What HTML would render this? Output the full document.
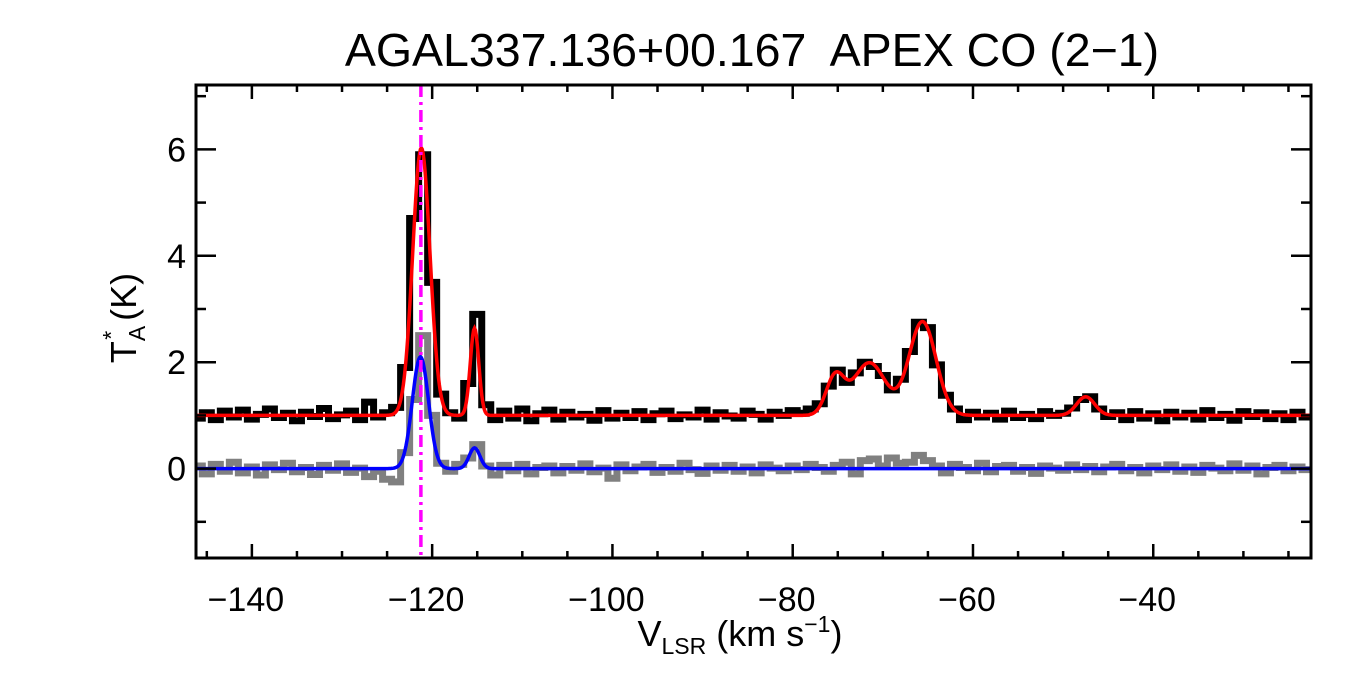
<!DOCTYPE html>
<html><head><meta charset="utf-8"><style>
html,body{margin:0;padding:0;background:#fff;}
svg{display:block;font-family:"Liberation Sans",sans-serif;}
</style></head><body>
<svg id="chart" width="1350" height="675" viewBox="0 0 1350 675" xmlns="http://www.w3.org/2000/svg">
<defs><clipPath id="clip"><rect x="196" y="85" width="1115" height="473"/></clipPath></defs>
<text x="752" y="66" font-size="46.5" text-anchor="middle" xml:space="preserve">AGAL337.136+00.167  APEX CO (2−1)</text>
<g id="plot" clip-path="url(#clip)"></g>
<g id="axes"></g>
<text x="740" y="646" font-size="36" text-anchor="middle">V<tspan font-size="23" dy="8">LSR</tspan><tspan dy="-8"> (km s</tspan><tspan font-size="23" dy="-14">−1</tspan><tspan dy="14">)</tspan></text>
<g transform="translate(136,318) rotate(-90)"><text x="0" y="0" font-size="36" text-anchor="middle">T<tspan font-size="23" dy="9">A</tspan><tspan font-size="23" dx="-14" dy="-26">*</tspan><tspan dy="17"> (K)</tspan></text></g>
</svg>
<script>
const v0 = -146;
const blackData = [0.95,1.05,0.92,1.08,0.97,1.10,0.93,1.02,1.12,0.96,
1.04,0.90,1.06,0.98,1.13,0.94,1.01,1.08,0.92,1.25,
0.97,1.05,1.15,1.9,4.7,5.9,3.5,1.4,1.05,0.95,
1.6,2.9,1.2,0.92,1.08,0.95,1.12,0.90,1.03,1.10,
0.93,1.06,0.97,1.02,0.91,1.09,0.95,1.04,0.96,1.07,
0.92,1.03,1.08,0.94,1.01,0.97,1.10,0.93,1.05,0.99,
0.95,1.08,1.02,0.93,1.06,1.00,1.09,1.04,1.12,1.22,
1.55,1.85,1.62,1.80,2.0,1.92,1.75,1.48,1.68,2.2,
2.75,2.65,1.95,1.38,1.12,0.92,1.06,0.97,1.04,0.93,
1.08,0.96,1.02,0.94,1.07,1.00,1.04,1.14,1.30,1.35,
1.12,0.98,1.05,0.92,1.07,0.95,1.03,0.90,1.06,0.97,
1.04,0.93,1.09,0.96,1.02,0.91,1.07,0.98,1.05,0.94,
1.03,0.92,1.06,0.97];
const grayData = [0.05,-0.10,0.08,-0.05,0.12,-0.08,0.03,-0.12,0.07,-0.02,
0.10,-0.06,0.02,-0.11,0.06,-0.03,0.09,-0.07,0.01,-0.15,
-0.05,-0.20,-0.25,0.30,1.3,2.5,1.0,0.1,-0.05,0.08,
0.2,0.45,0.05,-0.12,0.06,-0.04,0.08,-0.10,0.02,0.05,
-0.08,0.04,-0.03,0.09,-0.06,0.01,-0.18,0.07,-0.04,0.03,
0.08,-0.07,0.02,-0.05,0.10,-0.02,-0.09,0.05,-0.03,0.06,
-0.05,0.03,-0.08,0.07,0.01,-0.04,0.05,-0.02,0.08,0.02,
-0.05,0.06,0.12,-0.10,0.15,0.18,0.05,0.20,0.10,0.12,
0.25,0.15,0.05,-0.08,0.08,0.02,-0.04,0.10,-0.06,0.04,
0.06,-0.05,0.02,-0.09,0.05,0.01,-0.03,0.07,-0.02,0.04,
-0.06,0.03,0.08,-0.04,0.02,-0.08,0.05,-0.02,0.07,-0.05,
0.03,-0.07,0.06,0.01,-0.04,0.09,-0.03,0.05,-0.10,0.02,
0.06,-0.04,0.03,-0.02];
const redBase = 1.0;
const redCenters = [-121.2,-115.3,-75.3,-71.5,-65.6,-47.5];
const redAmps = [5.03,1.64,0.7,0.99,1.76,0.35];
const redSigmas = [0.96,0.47,1.0,1.8,1.5,1.0];
const blueBase = 0;
const blueCenters = [-121.3,-115.3];
const blueAmps = [2.1,0.39];
const blueSigmas = [0.9,0.6];
const markerVelocity = -121.25;
const xTicks = [-140,-120,-100,-80,-60,-40];
const yTicks = [0,2,4,6];

const X0=196,X1=1311,Y0=85,Y1=558, xmin=-146.2, xmax=-22.5, ymin=-1.68, ymax=7.21;
const sx=v=>X0+(v-xmin)/(xmax-xmin)*(X1-X0);
const sy=t=>Y1-(t-ymin)/(ymax-ymin)*(Y1-Y0);
const NS="http://www.w3.org/2000/svg";
const plot=document.getElementById('plot'), axes=document.getElementById('axes');
function mk(tag,attrs,parent){const e=document.createElementNS(NS,tag);for(const k in attrs)e.setAttribute(k,attrs[k]);parent.appendChild(e);return e;}
function stepPath(arr){let d='';arr.forEach((t,i)=>{const v=v0+i;const y=sy(t);d+=(i===0?'M':'L')+sx(v-0.5)+','+y+'L'+sx(v+0.5)+','+y;});return d;}
function fitPath(base,c,a,s){let d='';for(let v=xmin;v<=xmax;v+=0.1){let t=base;for(let k=0;k<c.length;k++)t+=a[k]*Math.exp(-0.5*Math.pow((v-c[k])/s[k],2));d+=(d?'L':'M')+sx(v).toFixed(2)+','+sy(t).toFixed(2);}return d;}
const gray=mk('path',{d:stepPath(grayData),fill:'none',stroke:'#808080','stroke-width':7},plot);


const black=mk('path',{d:stepPath(blackData),fill:'none',stroke:'#000','stroke-width':7},plot);


const blue=mk('path',{d:fitPath(blueBase,blueCenters,blueAmps,blueSigmas),fill:'none',stroke:'#0000ff','stroke-width':3.5},plot);


const red=mk('path',{d:fitPath(redBase,redCenters,redAmps,redSigmas),fill:'none',stroke:'#ff0000','stroke-width':3.5},plot);


const mline=mk('line',{x1:sx(markerVelocity),x2:sx(markerVelocity),y1:Y0,y2:Y1,stroke:'#ff00ff','stroke-width':3.5,'stroke-dasharray':'12,5,3,5'},plot);


const frame=mk('rect',{x:X0,y:Y0,width:X1-X0,height:Y1-Y0,fill:'none',stroke:'#000','stroke-width':3},axes);


for(let v=-145;v<=xmax;v+=5){const major=v%20===0;const L=major?14:7;const x=sx(v);
 mk('line',{x1:x,x2:x,y1:Y1,y2:Y1-L,stroke:'#000','stroke-width':2.5},axes);
 mk('line',{x1:x,x2:x,y1:Y0,y2:Y0+L,stroke:'#000','stroke-width':2.5},axes);}
for(let t=-1;t<=7;t++){const major=t%2===0;const L=major?20:10;const y=sy(t);
 mk('line',{x1:X0,x2:X0+L,y1:y,y2:y,stroke:'#000','stroke-width':2.5},axes);
 mk('line',{x1:X1,x2:X1-L,y1:y,y2:y,stroke:'#000','stroke-width':2.5},axes);}
xTicks.forEach(v=>{const t=mk('text',{x:sx(v)-6,y:611,'font-size':34,'text-anchor':'middle'},axes);t.textContent='−'+Math.abs(v);
 
 });
yTicks.forEach(v=>{const t=mk('text',{x:186,y:sy(v)+12,'font-size':34,'text-anchor':'end'},axes);t.textContent=v;
 
 });
</script>
</body></html>
